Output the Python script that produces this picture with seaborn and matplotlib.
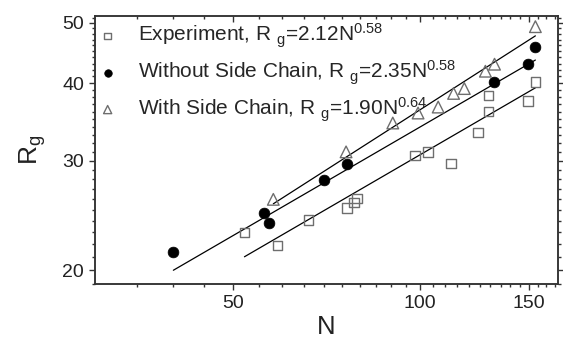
import numpy as np
import matplotlib
matplotlib.use("Agg")
import matplotlib.pyplot as plt
import matplotlib.ticker as mticker
import seaborn as sns

# Dados
n_exp = [52.2, 59.0, 66.2, 76.3, 78.3, 79.3, 98.2, 103.2, 112.2, 124.1, 129.0, 129.0, 149.3, 153.6]
rg_exp = [23.0, 21.9, 24.1, 25.2, 25.7, 26.1, 30.6, 31.0, 29.7, 33.3, 36.0, 38.2, 37.4, 40.2]

n_sem = [40.1, 56.2, 57.1, 70.2, 76.3, 131.6, 149.3, 153.6]
rg_sem = [21.4, 24.7, 23.8, 27.9, 29.6, 40.2, 42.9, 45.8]

n_com = [58.1, 76.1, 90.5, 99.4, 107.1, 113.4, 118.0, 127.6, 132.0, 153.6]
rg_com = [26.0, 31.0, 34.5, 35.8, 36.6, 38.5, 39.2, 41.8, 42.9, 49.3]

# Ajustes Rg = a * N^b
coef_a = [2.12, 2.35, 1.90]
coef_b = [0.58, 0.58, 0.64]
rotulos = [
    r"Experiment, R$_{\enspace\mathregular{g}}$=2.12N$^{\mathregular{0.58}}$",
    r"Without Side Chain, R$_{\enspace\mathregular{g}}$=2.35N$^{\mathregular{0.58}}$",
    r"With Side Chain, R$_{\enspace\mathregular{g}}$=1.90N$^{\mathregular{0.64}}$",
]

sns.set_style("ticks")
plt.rcParams["font.family"] = ["Liberation Sans", "DejaVu Sans"]
plt.rcParams["mathtext.fontset"] = "custom"
plt.rcParams["mathtext.rm"] = "Liberation Sans"
plt.rcParams["mathtext.it"] = "Liberation Sans"

fig = plt.figure(figsize=(5.63, 3.43), dpi=100)
ax = fig.add_axes([0.169, 0.172, 0.822, 0.780])

cinza = "#6e6e6e"
escuro = "#333333"
sns.scatterplot(x=n_exp, y=rg_exp, marker="s", s=48, facecolors="none",
                edgecolor=cinza, linewidth=1.0, label=rotulos[0], ax=ax, zorder=3)
sns.scatterplot(x=n_sem, y=rg_sem, marker="o", s=60, color="black",
                edgecolor="black", linewidth=0.5, label=rotulos[1], ax=ax, zorder=3)
sns.scatterplot(x=n_com, y=rg_com, marker="^", s=70, facecolors="none",
                edgecolor=cinza, linewidth=1.0, label=rotulos[2], ax=ax, zorder=3)

# Retas de ajuste no intervalo de cada série
for ns, a, b in zip([n_exp, n_sem, n_com], coef_a, coef_b):
    xx = np.linspace(min(ns), max(ns), 50)
    sns.lineplot(x=xx, y=a * xx ** b, color="black", linewidth=0.9, ax=ax, zorder=2)

xlim = (30, 167)
ax.set_xscale("log")
ax.set_yscale("log")
ax.set_xlim(*xlim)
ax.set_ylim(19, 51.2)

x_maj = [50, 100, 150]
x_min = np.arange(35, 170, 5)
ax.xaxis.set_major_locator(mticker.FixedLocator(x_maj))
ax.xaxis.set_minor_locator(mticker.FixedLocator(x_min))
ax.yaxis.set_major_locator(mticker.FixedLocator([20, 30, 40, 50]))
ax.yaxis.set_minor_locator(mticker.FixedLocator(np.arange(19, 52, 1)))
ax.xaxis.set_major_formatter(mticker.FormatStrFormatter("%d"))
ax.yaxis.set_major_formatter(mticker.FormatStrFormatter("%d"))
ax.xaxis.set_minor_formatter(mticker.NullFormatter())
ax.yaxis.set_minor_formatter(mticker.NullFormatter())

ax.tick_params(axis="both", which="major", labelsize=14, length=4.5, width=1,
               color=escuro, labelcolor="#222222", direction="out")
ax.tick_params(axis="both", which="minor", length=2.5, width=1, color=escuro,
               direction="out")
ax.tick_params(axis="y", which="both", right=True)
ax.tick_params(axis="x", which="both", top=False)

# Eixo superior com ticks para dentro
ax_top = ax.twiny()
ax_top.set_xscale("log")
ax_top.set_xlim(*xlim)
ax_top.xaxis.set_major_locator(mticker.FixedLocator(x_maj))
ax_top.xaxis.set_minor_locator(mticker.FixedLocator(x_min))
ax_top.xaxis.set_major_formatter(mticker.NullFormatter())
ax_top.xaxis.set_minor_formatter(mticker.NullFormatter())
ax_top.tick_params(axis="x", which="major", direction="in", length=4.5, width=1, color=escuro)
ax_top.tick_params(axis="x", which="minor", direction="in", length=2.5, width=1, color=escuro)

for a_ in (ax, ax_top):
    for sp in a_.spines.values():
        sp.set_linewidth(1.1)
        sp.set_color(escuro)

ax.set_xlabel("N", fontsize=18.5, color="#222222", labelpad=2)
ax.set_ylabel(r"R$_\mathregular{g}$", fontsize=19, color="#222222", labelpad=10)

leg = ax.legend(loc="upper left", frameon=False, fontsize=15, markerscale=0.7,
                handletextpad=1.1, borderaxespad=0.0, borderpad=0.25,
                labelspacing=0.4, handlelength=0.7)

fig.savefig("out.png", dpi=100)
